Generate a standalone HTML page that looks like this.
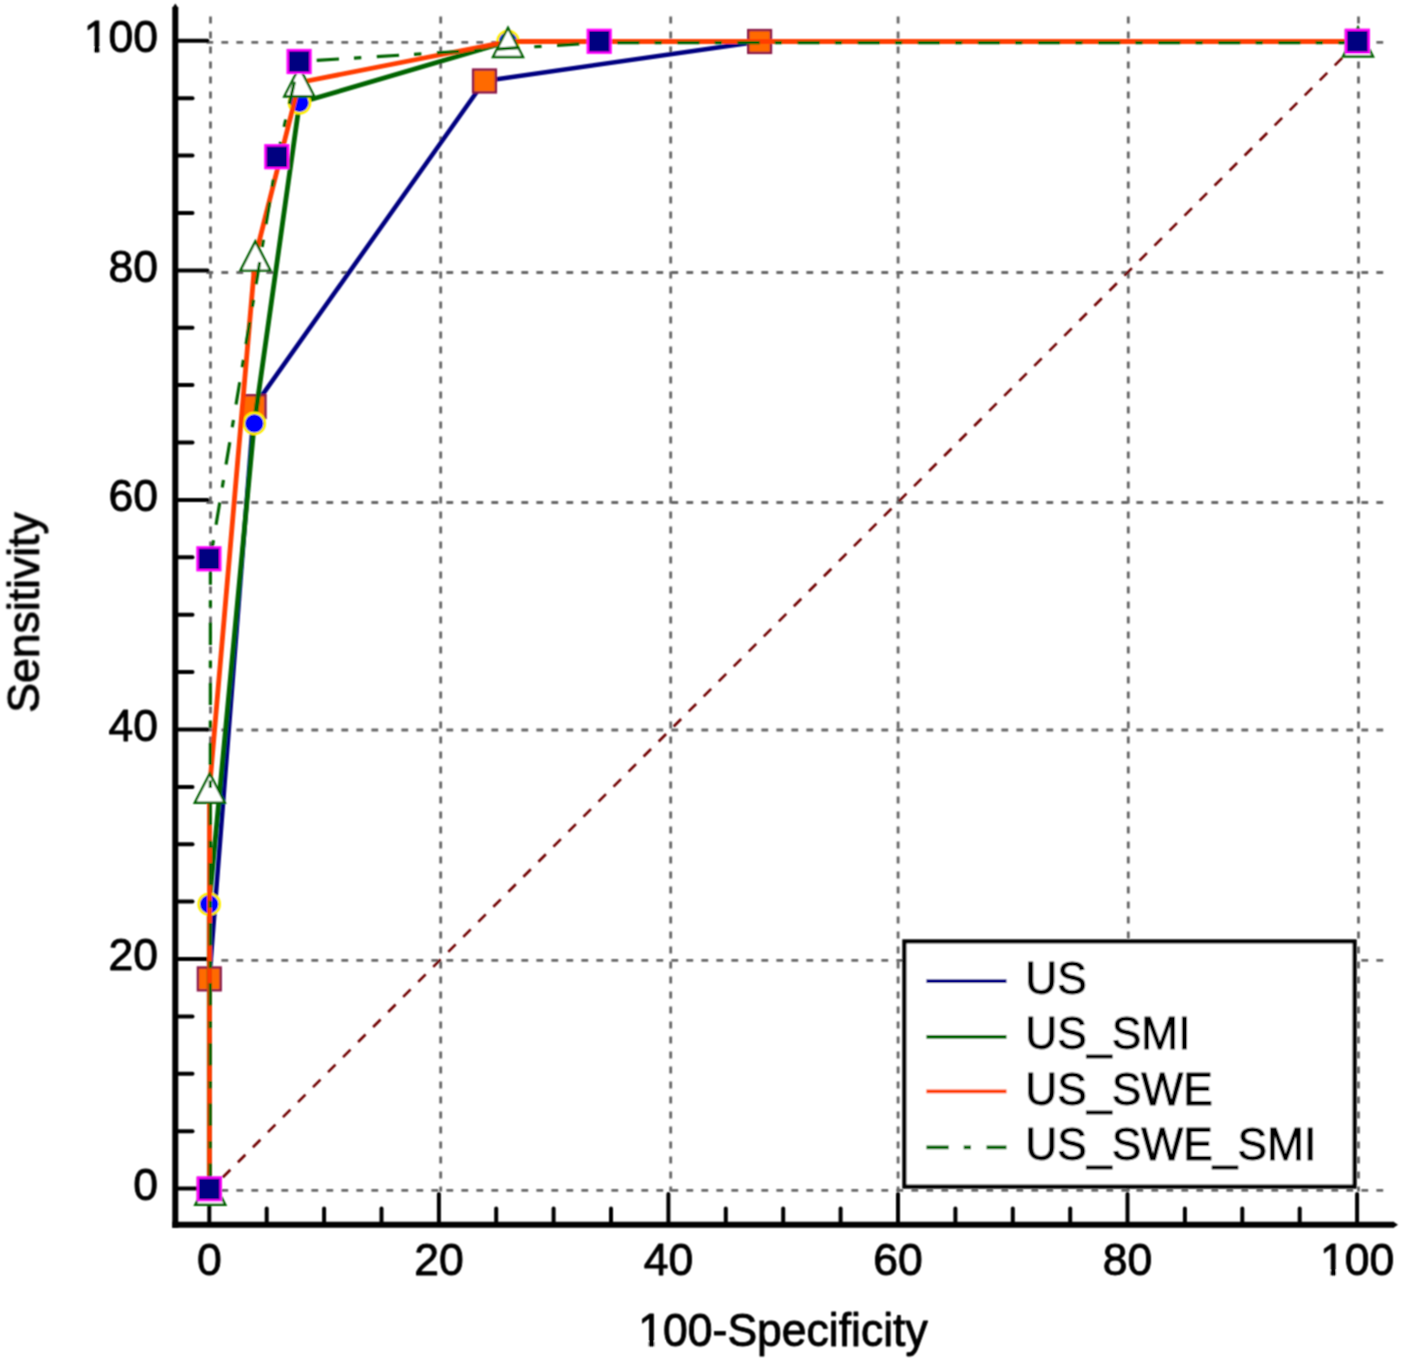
<!DOCTYPE html>
<html lang="en"><head><meta charset="utf-8"><title>ROC curves</title>
<style>html,body{margin:0;padding:0;background:#fff}body{width:1402px;height:1364px;overflow:hidden}svg{display:block}text{font-family:"Liberation Sans",Arial,sans-serif;fill:#000}</style></head><body>
<svg width="1402" height="1364" viewBox="0 0 1402 1364">
<defs><filter id="soft" x="0" y="0" width="1402" height="1364" filterUnits="userSpaceOnUse"><feConvolveMatrix order="3" kernelMatrix="1 2 1 2 4 2 1 2 1" divisor="16" edgeMode="duplicate" preserveAlpha="false"/></filter></defs>
<rect width="1402" height="1364" fill="#fff"/>
<g filter="url(#soft)">
<g stroke="#686868" stroke-width="2.8" stroke-dasharray="6.8 8.2" fill="none">
<line x1="210.5" y1="16.6" x2="210.5" y2="1191.5"/>
<line x1="440.7" y1="16.6" x2="440.7" y2="1191.5"/>
<line x1="670.7" y1="16.6" x2="670.7" y2="1191.5"/>
<line x1="898.1" y1="16.6" x2="898.1" y2="1191.5"/>
<line x1="1128.3" y1="16.6" x2="1128.3" y2="1191.5"/>
<line x1="1358.5" y1="16.6" x2="1358.5" y2="1191.5"/>
<line x1="206.4" y1="42.4" x2="1385" y2="42.4"/>
<line x1="206.4" y1="272.5" x2="1385" y2="272.5"/>
<line x1="206.4" y1="502.5" x2="1385" y2="502.5"/>
<line x1="206.4" y1="730.0" x2="1385" y2="730.0"/>
<line x1="206.4" y1="960.3" x2="1385" y2="960.3"/>
<line x1="206.4" y1="1190.3" x2="1385" y2="1190.3"/>
</g>
<line x1="209.3" y1="1190.8" x2="1357.1" y2="43.0" stroke="#700000" stroke-width="2.6" stroke-dasharray="10.6 10.65" stroke-dashoffset="2.1"/>
<g stroke="#000" fill="none">
<path d="M175.3 7V1227.8" stroke-width="6"/>
<path d="M172.3 1224.8H1394" stroke-width="6"/>
</g>
<path d="M172.3 8L175.3 3.5L178.3 8Z" fill="#000"/><path d="M1393.5 1221.8L1398 1224.8L1393.5 1227.8Z" fill="#000"/>
<g stroke="#000" stroke-width="4" stroke-linecap="round" fill="none">
<line x1="178" y1="1188.6" x2="207.5" y2="1188.6"/>
<line x1="178" y1="1131.2" x2="192.5" y2="1131.2"/>
<line x1="178" y1="1073.8" x2="192.5" y2="1073.8"/>
<line x1="178" y1="1016.4" x2="192.5" y2="1016.4"/>
<line x1="178" y1="959.0" x2="207.5" y2="959.0"/>
<line x1="178" y1="901.6" x2="192.5" y2="901.6"/>
<line x1="178" y1="844.3" x2="192.5" y2="844.3"/>
<line x1="178" y1="786.9" x2="192.5" y2="786.9"/>
<line x1="178" y1="729.5" x2="207.5" y2="729.5"/>
<line x1="178" y1="672.1" x2="192.5" y2="672.1"/>
<line x1="178" y1="614.7" x2="192.5" y2="614.7"/>
<line x1="178" y1="557.3" x2="192.5" y2="557.3"/>
<line x1="178" y1="499.9" x2="207.5" y2="499.9"/>
<line x1="178" y1="442.5" x2="192.5" y2="442.5"/>
<line x1="178" y1="385.1" x2="192.5" y2="385.1"/>
<line x1="178" y1="327.7" x2="192.5" y2="327.7"/>
<line x1="178" y1="270.4" x2="207.5" y2="270.4"/>
<line x1="178" y1="213.0" x2="192.5" y2="213.0"/>
<line x1="178" y1="155.6" x2="192.5" y2="155.6"/>
<line x1="178" y1="98.2" x2="192.5" y2="98.2"/>
<line x1="178" y1="40.8" x2="207.5" y2="40.8"/>
<line x1="209.3" y1="1194" x2="209.3" y2="1222"/>
<line x1="266.7" y1="1208.5" x2="266.7" y2="1222"/>
<line x1="324.1" y1="1208.5" x2="324.1" y2="1222"/>
<line x1="381.5" y1="1208.5" x2="381.5" y2="1222"/>
<line x1="438.9" y1="1194" x2="438.9" y2="1222"/>
<line x1="496.2" y1="1208.5" x2="496.2" y2="1222"/>
<line x1="553.6" y1="1208.5" x2="553.6" y2="1222"/>
<line x1="611.0" y1="1208.5" x2="611.0" y2="1222"/>
<line x1="668.4" y1="1194" x2="668.4" y2="1222"/>
<line x1="725.8" y1="1208.5" x2="725.8" y2="1222"/>
<line x1="783.2" y1="1208.5" x2="783.2" y2="1222"/>
<line x1="840.6" y1="1208.5" x2="840.6" y2="1222"/>
<line x1="898.0" y1="1194" x2="898.0" y2="1222"/>
<line x1="955.4" y1="1208.5" x2="955.4" y2="1222"/>
<line x1="1012.8" y1="1208.5" x2="1012.8" y2="1222"/>
<line x1="1070.2" y1="1208.5" x2="1070.2" y2="1222"/>
<line x1="1127.5" y1="1194" x2="1127.5" y2="1222"/>
<line x1="1184.9" y1="1208.5" x2="1184.9" y2="1222"/>
<line x1="1242.3" y1="1208.5" x2="1242.3" y2="1222"/>
<line x1="1299.7" y1="1208.5" x2="1299.7" y2="1222"/>
<line x1="1357.1" y1="1194" x2="1357.1" y2="1222"/>
</g>
<g font-size="44.5" stroke="#000" stroke-width="0.9" stroke-linejoin="round">
<text x="157.9" y="1200.0" text-anchor="end">0</text>
<text x="157.9" y="970.4" text-anchor="end">20</text>
<text x="157.9" y="740.9" text-anchor="end">40</text>
<text x="157.9" y="511.3" text-anchor="end">60</text>
<text x="157.9" y="281.8" text-anchor="end">80</text>
<text x="157.9" y="52.2" text-anchor="end">100</text>
<text x="209.3" y="1275.2" text-anchor="middle">0</text>
<text x="438.9" y="1275.2" text-anchor="middle">20</text>
<text x="668.4" y="1275.2" text-anchor="middle">40</text>
<text x="898.0" y="1275.2" text-anchor="middle">60</text>
<text x="1127.5" y="1275.2" text-anchor="middle">80</text>
<text x="1357.1" y="1275.2" text-anchor="middle">100</text>
<text transform="translate(783 1345.7) scale(1 1.02)" text-anchor="middle">100-Specificity</text>
<text transform="translate(38.8 612.5) rotate(-90) scale(1 1.0)" text-anchor="middle">Sensitivity</text>
</g>
<rect x="84.0" y="47.0" width="10.05" height="7.0" fill="#fff"/><rect x="99.7" y="47.0" width="8.30" height="7.0" fill="#fff"/>
<rect x="1319.5" y="1270.0" width="10.90" height="7.0" fill="#fff"/><rect x="1336.0" y="1270.0" width="10.50" height="7.0" fill="#fff"/>
<rect x="637.5" y="1341.0" width="11.15" height="7.0" fill="#fff"/><rect x="654.3" y="1341.0" width="10.70" height="7.0" fill="#fff"/>
<rect x="904.4" y="941.4" width="450.2" height="245.2" fill="#fff" stroke="#000" stroke-width="4.2"/>
<line x1="926.4" y1="981.2" x2="1006.5" y2="981.2" stroke="#000080" stroke-width="3.8"/>
<text transform="translate(1025.3 993.9) scale(1 1.035)" font-size="44.4" stroke="#000" stroke-width="0.9" stroke-linejoin="round">US</text>
<line x1="926.4" y1="1036.8" x2="1006.5" y2="1036.8" stroke="#006400" stroke-width="3.8"/>
<text transform="translate(1025.3 1049.2) scale(1 1.035)" font-size="44.4" stroke="#000" stroke-width="0.9" stroke-linejoin="round">US_SMI</text>
<line x1="926.4" y1="1091.4" x2="1006.5" y2="1091.4" stroke="#ff3c00" stroke-width="3.8"/>
<text transform="translate(1025.3 1104.5) scale(1 1.035)" font-size="44.4" stroke="#000" stroke-width="0.9" stroke-linejoin="round">US_SWE</text>
<line x1="926.4" y1="1147.4" x2="1006.5" y2="1147.4" stroke="#006400" stroke-width="3.8" stroke-dasharray="22.3 15 7.3 15.5"/>
<text transform="translate(1025.3 1159.8) scale(1 1.035)" font-size="44.4" stroke="#000" stroke-width="0.9" stroke-linejoin="round">US_SWE_SMI</text>
<polyline points="209.3,1189.3 209.3,978.9 254.1,406.6 484.5,81.0 759.6,41.5 1357.3,41.5" fill="none" stroke="#000080" stroke-width="4.5" stroke-linejoin="round"/>
<rect x="197.9" y="1177.9" width="22.8" height="22.8" fill="#ff6a00" stroke="#8b1a4a" stroke-width="2.4"/>
<rect x="197.9" y="967.5" width="22.8" height="22.8" fill="#ff6a00" stroke="#8b1a4a" stroke-width="2.4"/>
<rect x="242.7" y="395.2" width="22.8" height="22.8" fill="#ff6a00" stroke="#8b1a4a" stroke-width="2.4"/>
<rect x="473.1" y="69.6" width="22.8" height="22.8" fill="#ff6a00" stroke="#8b1a4a" stroke-width="2.4"/>
<rect x="748.2" y="30.1" width="22.8" height="22.8" fill="#ff6a00" stroke="#8b1a4a" stroke-width="2.4"/>
<rect x="1345.9" y="30.1" width="22.8" height="22.8" fill="#ff6a00" stroke="#8b1a4a" stroke-width="2.4"/>
<polyline points="209.3,1189.3 209.2,904.2 254.3,423.4 299.5,102.8 508.0,41.5 1357.3,41.5" fill="none" stroke="#006400" stroke-width="4.8" stroke-linejoin="round"/>
<circle cx="209.3" cy="1189.3" r="10.5" fill="#0000ff" stroke="#ffee00" stroke-width="2.6"/>
<circle cx="209.2" cy="904.2" r="10.5" fill="#0000ff" stroke="#ffee00" stroke-width="2.6"/>
<circle cx="254.3" cy="423.4" r="10.5" fill="#0000ff" stroke="#ffee00" stroke-width="2.6"/>
<circle cx="299.5" cy="102.8" r="10.5" fill="#0000ff" stroke="#ffee00" stroke-width="2.6"/>
<circle cx="508.0" cy="41.5" r="10.5" fill="#0000ff" stroke="#ffee00" stroke-width="2.6"/>
<circle cx="1357.3" cy="41.5" r="10.5" fill="#0000ff" stroke="#ffee00" stroke-width="2.6"/>
<polyline points="209.5,1189.3 209.5,788.8 255.3,256.6 299.3,82.5 508.0,41.5 1357.3,41.5" fill="none" stroke="#ff3c00" stroke-width="4.8" stroke-linejoin="round"/>
<path d="M210.3 1175.5L225.3 1204.7H195.3Z" fill="#fff" stroke="#006400" stroke-width="2.4" stroke-linejoin="miter"/>
<path d="M209.8 773.6L224.8 802.8H194.8Z" fill="#fff" stroke="#006400" stroke-width="2.4" stroke-linejoin="miter"/>
<path d="M255.4 241.4L270.4 270.6H240.4Z" fill="#fff" stroke="#006400" stroke-width="2.4" stroke-linejoin="miter"/>
<path d="M299.3 67.3L314.3 96.5H284.3Z" fill="#fff" stroke="#006400" stroke-width="2.4" stroke-linejoin="miter"/>
<path d="M508.0 27.8L523.0 57.0H493.0Z" fill="#fff" stroke="#006400" stroke-width="2.4" stroke-linejoin="miter"/>
<path d="M1358.0 27.3L1373.0 56.5H1343.0Z" fill="#fff" stroke="#006400" stroke-width="2.4" stroke-linejoin="miter"/>
<g fill="none" stroke="#006400" stroke-width="3.2">
<line x1="210.2" y1="1189.3" x2="210.4" y2="558.8" stroke-dasharray="22.30 15.00 7.30 15.50" stroke-dashoffset="56.60"/>
<line x1="210.4" y1="558.8" x2="277.2" y2="156.7" stroke-dasharray="22.61 15.21 7.40 15.71" stroke-dashoffset="26.36"/>
<line x1="277.2" y1="156.7" x2="299.1" y2="61.5" stroke-dasharray="22.88 15.39 7.49 15.90" stroke-dashoffset="7.59"/>
<line x1="299.1" y1="61.5" x2="599.2" y2="42.7" stroke-dasharray="22.34 15.03 7.31 15.53" stroke-dashoffset="42.58"/>
<line x1="599.2" y1="42.7" x2="1357.3" y2="42.7" stroke-dasharray="22.30 15.00 7.30 15.50" stroke-dashoffset="42.10"/>
</g>
<rect x="197.9" y="1177.6" width="22.8" height="22.8" fill="#000080" stroke="#ff00ff" stroke-width="2.4"/>
<rect x="197.5" y="547.4" width="22.8" height="22.8" fill="#000080" stroke="#ff00ff" stroke-width="2.4"/>
<rect x="265.4" y="145.3" width="22.8" height="22.8" fill="#000080" stroke="#ff00ff" stroke-width="2.4"/>
<rect x="287.7" y="50.1" width="22.8" height="22.8" fill="#000080" stroke="#ff00ff" stroke-width="2.4"/>
<rect x="587.8" y="29.9" width="22.8" height="22.8" fill="#000080" stroke="#ff00ff" stroke-width="2.4"/>
<rect x="1346.0" y="29.9" width="22.8" height="22.8" fill="#000080" stroke="#ff00ff" stroke-width="2.4"/>
</g>
</svg></body></html>
